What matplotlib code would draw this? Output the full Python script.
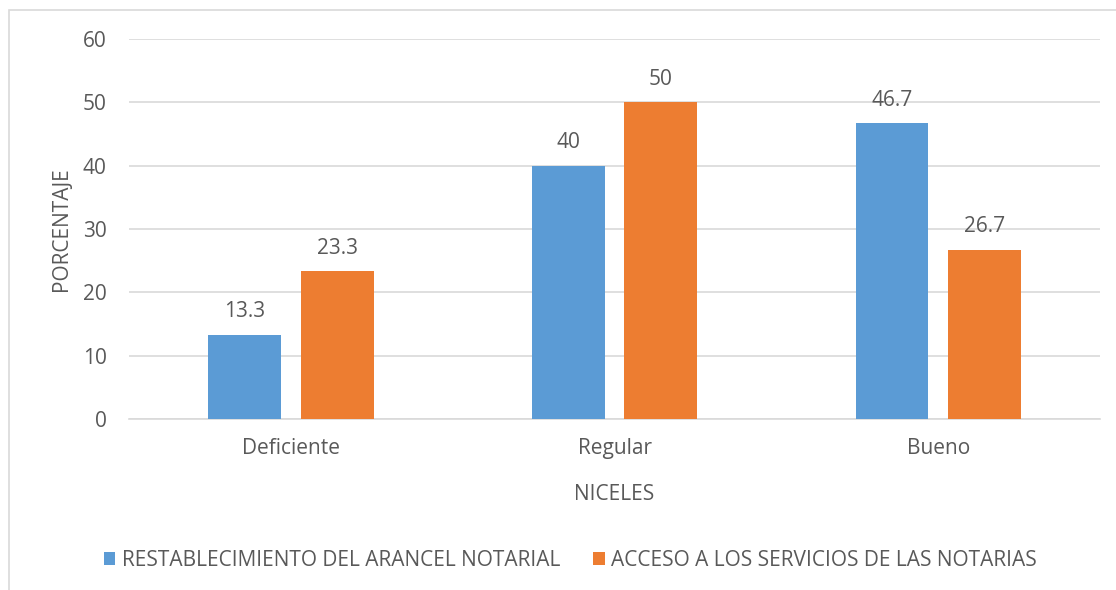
import matplotlib
matplotlib.use("Agg")
import matplotlib.pyplot as plt
import numpy as np
from matplotlib.patches import Rectangle

categories = ["Deficiente", "Regular", "Bueno"]
series_names = ["RESTABLECIMIENTO DEL ARANCEL NOTARIAL", "ACCESO A LOS SERVICIOS DE LAS NOTARIAS"]
restablecimiento = [13.3, 40, 46.7]
acceso = [23.3, 50, 26.7]
yticks = [0, 10, 20, 30, 40, 50, 60]

plt.rcParams['font.family'] = ['Open Sans', 'DejaVu Sans']
text_color = '#595959'
grid_color = '#d9d9d9'
colors = ['#5B9BD5', '#ED7D31']
fs = 15

fig = plt.figure(figsize=(11.16, 5.90), dpi=100)
ax = fig.add_axes([0.1156, 0.2898, 0.8701, 0.6441])

x = np.arange(len(categories))
w = 0.225
off = 0.143
bars1 = ax.bar(x - off, restablecimiento, w, color=colors[0], label=series_names[0], zorder=3)
bars2 = ax.bar(x + off, acceso, w, color=colors[1], label=series_names[1], zorder=3)

for bars, vals in ((bars1, restablecimiento), (bars2, acceso)):
    for b, v in zip(bars, vals):
        ax.annotate(f"{v:g}", (b.get_x() + b.get_width() / 2, v), xytext=(0, 9),
                    textcoords='offset points', ha='center', va='bottom',
                    fontsize=fs, color=text_color)

ax.set_xlim(-0.5, 2.5)
ax.set_ylim(0, 60)
ax.set_yticks(yticks)
ax.set_xticks(x)
ax.set_xticklabels(categories)
ax.yaxis.grid(True, color=grid_color, linewidth=1.2, zorder=0)
ax.set_axisbelow(True)
for s in ['top', 'right', 'left']:
    ax.spines[s].set_visible(False)
ax.spines['bottom'].set_color(grid_color)
ax.spines['bottom'].set_linewidth(1.2)
ax.tick_params(axis='both', length=0, labelsize=fs, colors=text_color)
ax.tick_params(axis='y', pad=16)
ax.tick_params(axis='x', pad=14)
ax.set_xlabel("NICELES", fontsize=fs, color=text_color, labelpad=18)
ax.set_ylabel("PORCENTAJE", fontsize=fs, color=text_color, labelpad=8)

fig.legend(handles=[bars1, bars2], labels=series_names, loc='center', bbox_to_anchor=(0.511, 0.05),
           ncol=2, frameon=False, fontsize=fs, labelcolor=text_color, handlelength=0.55,
           handleheight=0.55, handletextpad=0.3, columnspacing=1.6)

fig.patches.append(Rectangle((9 / 1116, -0.1), 1.2, 1 - 10 / 590 + 0.1, transform=fig.transFigure,
                             fill=False, edgecolor=grid_color, linewidth=1.2, zorder=0))

fig.savefig("out.png", dpi=100)
